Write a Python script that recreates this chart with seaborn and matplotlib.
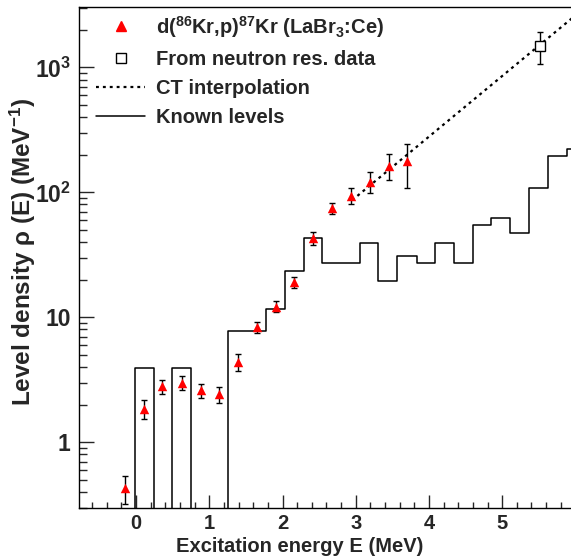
import numpy as np
import pandas as pd
import seaborn as sns
import matplotlib
matplotlib.use("Agg")
import matplotlib.pyplot as plt
from matplotlib.lines import Line2D
from matplotlib.ticker import FixedLocator, MultipleLocator, LogLocator, FixedFormatter, NullFormatter

# d(86Kr,p)87Kr level density points
energy = [-0.15, 0.11, 0.36, 0.62, 0.88, 1.13, 1.39, 1.65, 1.91, 2.16, 2.42, 2.68, 2.93, 3.19, 3.45, 3.70]
density = [0.43, 1.86, 2.8, 3.0, 2.6, 2.42, 4.4, 8.3, 12.2, 19.2, 43, 75, 94, 122, 163, 177]
density_err = [0.11, 0.31, 0.36, 0.38, 0.34, 0.36, 0.65, 0.8, 1.2, 1.9, 4.8, 8, 14, 23, 38, 69]

# neutron resonance data point
nres_energy = [5.51]
nres_density = [1494]
nres_err = [430]

# constant temperature interpolation (end points)
ct_energy = [2.95, 6.0]
ct_density = [86.5, 2606]

# known levels histogram
level_edges = [-0.28, -0.02, 0.24, 0.49, 0.75, 1.01, 1.26, 1.52, 1.78, 2.03, 2.29, 2.54, 2.80,
               3.06, 3.31, 3.57, 3.83, 4.08, 4.34, 4.60, 4.85, 5.11, 5.37, 5.62, 5.88, 6.14]
level_density = [0, 3.9, 0, 3.9, 0, 0, 7.8, 7.8, 11.7, 23.4, 43, 27.3, 27.3, 39, 19.5, 31.2,
                 27.3, 39, 27.3, 54.7, 62.5, 46.9, 109, 195, 223]

sns.set_theme(style="ticks")
plt.rcParams['font.family'] = ['Liberation Sans', 'DejaVu Sans']
plt.rcParams['font.weight'] = 'bold'
plt.rcParams['mathtext.fontset'] = 'custom'
plt.rcParams['mathtext.rm'] = 'Liberation Sans'
plt.rcParams['mathtext.bf'] = 'Liberation Sans:bold'
plt.rcParams['mathtext.it'] = 'Liberation Sans:italic'
plt.rcParams['mathtext.default'] = 'rm'

fs = 14.5
fs_y = 16.5

fig = plt.figure(figsize=(5.71, 5.58), dpi=100)
ax = fig.add_axes([79 / 571, 50.3 / 558, 492 / 571, 501 / 558])
ax.set_yscale('log')

levels = pd.DataFrame({
    'center': [(a + b) / 2 for a, b in zip(level_edges[:-1], level_edges[1:])],
    'density': level_density,
})
sns.histplot(data=levels, x='center', weights='density', bins=level_edges,
             element='step', fill=False, color='black', linewidth=1.1, ax=ax)

ax.plot(ct_energy, ct_density, color='black', linestyle=(0, (1.3, 1.8)), linewidth=1.6)

ax.errorbar(energy, density, yerr=density_err, fmt='none', ecolor='black',
            elinewidth=1.0, capsize=2.5, capthick=1.0, zorder=3)
pts = pd.DataFrame({'energy': energy, 'density': density})
sns.scatterplot(data=pts, x='energy', y='density', marker='^', color='red',
                s=46, linewidth=0, zorder=4, ax=ax)

ax.errorbar(nres_energy, nres_density, yerr=nres_err, fmt='s', ms=6.8,
            mfc='white', mec='black', mew=1.0, ecolor='black', elinewidth=1.0,
            capsize=2.5, capthick=1.0, zorder=4)

ax.set_xlim(-0.78, 5.94)
ax.set_ylim(0.3, 3060)

ax.xaxis.set_major_locator(MultipleLocator(1))
ax.xaxis.set_minor_locator(MultipleLocator(0.2))
ax.yaxis.set_major_locator(FixedLocator([1, 10, 100, 1000]))
ax.yaxis.set_major_formatter(FixedFormatter(['1', '10', r'$\mathbf{10^{2}}$', r'$\mathbf{10^{3}}$']))
ax.yaxis.set_minor_locator(LogLocator(base=10, subs=np.arange(2, 10)))
ax.yaxis.set_minor_formatter(NullFormatter())

ax.tick_params(axis='x', which='major', direction='in', length=9.4, width=1.0,
               pad=4.5, labelsize=fs, top=False)
ax.tick_params(axis='x', which='minor', direction='in', length=4.3, width=1.0, top=False)
ax.tick_params(axis='y', which='major', direction='in', length=10.8, width=1.0,
               pad=6.0, labelsize=fs_y, right=False)
ax.tick_params(axis='y', which='minor', direction='in', length=5.8, width=1.0, right=False)
for lab in ax.get_xticklabels() + ax.get_yticklabels():
    lab.set_fontweight('bold')

for side in ['left', 'bottom', 'top']:
    ax.spines[side].set_color('black')
    ax.spines[side].set_linewidth(1.0)
ax.spines['right'].set_visible(False)

ax.set_xlabel('Excitation energy E (MeV)', fontsize=fs, fontweight='bold')
ax.xaxis.set_label_coords(0.449, -0.058)
ax.set_ylabel(r'Level density $\rho$ (E) (MeV$^{\mathbf{-1}}$)', fontsize=17.5, fontweight='bold')
ax.yaxis.set_label_coords(-0.083, 0.51)

handles = [
    Line2D([], [], marker='^', color='red', linestyle='none', markersize=6.8),
    Line2D([], [], marker='s', color='black', mfc='white', linestyle='none', markersize=6.8, mew=1.0),
    Line2D([], [], color='black', linestyle=(0, (1.3, 1.8)), linewidth=1.6),
    Line2D([], [], color='black', linewidth=1.1),
]
labels = [
    r'd($^{\mathbf{86}}$Kr,p)$^{\mathbf{87}}$Kr (LaBr$_{\mathbf{3}}$:Ce)',
    'From neutron res. data',
    'CT interpolation',
    'Known levels',
]
leg = ax.legend(handles, labels, loc='upper left', bbox_to_anchor=(0.0346, 0.986),
                frameon=False, fontsize=fs, borderpad=0, borderaxespad=0,
                handlelength=2.45, handletextpad=0.55, labelspacing=0.5)
for t in leg.get_texts():
    t.set_fontweight('bold')

fig.savefig('out.png', dpi=100)
